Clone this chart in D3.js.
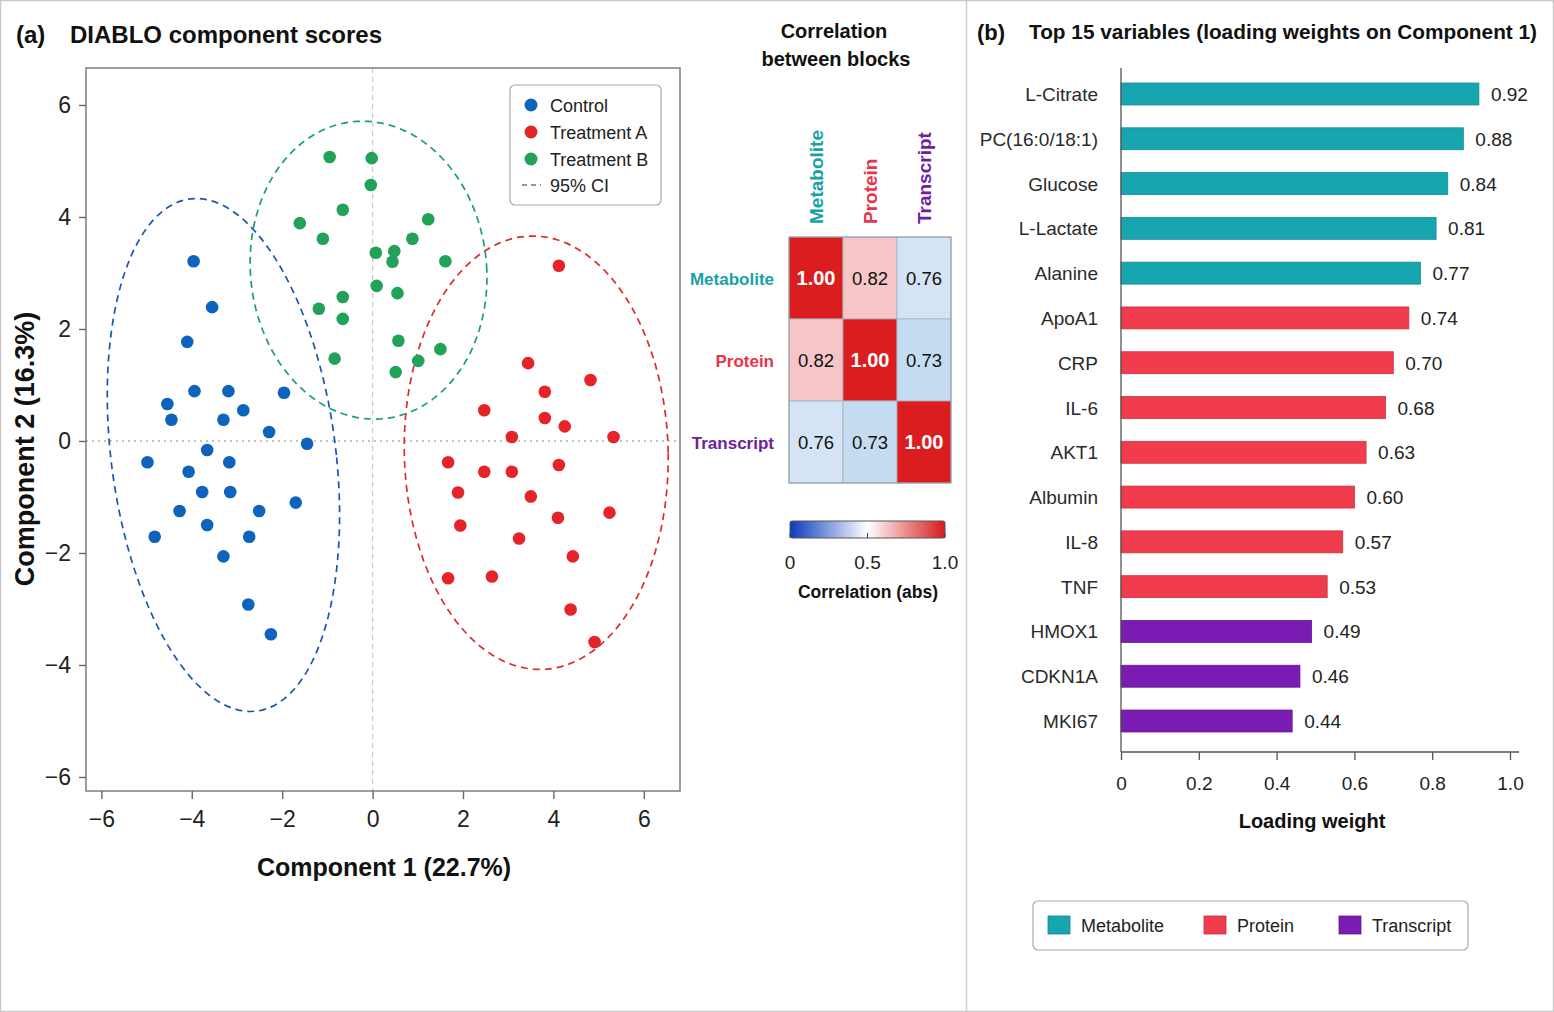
<!DOCTYPE html>
<html>
<head>
<meta charset="utf-8">
<script src="https://cdn.jsdelivr.net/npm/d3@7"></script>
<style>
  html, body { margin: 0; padding: 0; background: #fff; }
  svg { display: block; font-family: "Liberation Sans", Arial, Helvetica, sans-serif; }
</style>
</head>
<body>
<svg id="fig" width="1554" height="1012"></svg>
<script>
// ---------------- DATA ----------------
const groups = ["Control", "Treatment A", "Treatment B"];

const controlScores = [
  [-3.96, 3.21], [-3.55, 2.39], [-4.10, 1.77], [-3.94, 0.89], [-3.19, 0.89], [-1.96, 0.86],
  [-4.54, 0.66], [-4.45, 0.38], [-3.30, 0.38], [-2.86, 0.55], [-2.29, 0.16], [-1.45, -0.05],
  [-3.66, -0.16], [-4.98, -0.38], [-4.07, -0.55], [-3.17, -0.38], [-3.77, -0.91], [-3.15, -0.91],
  [-1.70, -1.10], [-4.27, -1.25], [-3.66, -1.50], [-2.51, -1.25], [-4.82, -1.71], [-2.73, -1.71],
  [-3.30, -2.06], [-2.75, -2.92], [-2.25, -3.45]
];
const treatmentAScores = [
  [4.12, 3.13], [3.44, 1.39], [4.82, 1.09], [3.81, 0.88], [2.47, 0.55], [3.81, 0.41],
  [4.25, 0.26], [3.08, 0.07], [5.33, 0.07], [1.67, -0.38], [2.47, -0.55], [3.08, -0.55],
  [4.12, -0.43], [1.89, -0.92], [3.50, -0.99], [1.94, -1.51], [4.10, -1.37], [5.24, -1.28],
  [3.24, -1.74], [4.43, -2.06], [1.67, -2.45], [2.64, -2.42], [4.38, -3.01], [4.91, -3.59]
];
const treatmentBScores = [
  [-0.95, 5.07], [-0.02, 5.05], [-0.04, 4.57], [-0.66, 4.13], [1.23, 3.96], [-1.61, 3.89],
  [-1.10, 3.61], [0.88, 3.61], [0.07, 3.36], [0.48, 3.39], [0.44, 3.20], [1.61, 3.21],
  [0.09, 2.77], [-0.66, 2.57], [0.55, 2.64], [-1.19, 2.36], [-0.66, 2.18], [0.57, 1.79],
  [1.50, 1.64], [-0.84, 1.47], [1.01, 1.43], [0.51, 1.23]
];
// 95% CI ellipses (data units): centre, half-width, half-height, x-offset of the top point
const ellipseCx     = [-3.30, 3.62, -0.09];
const ellipseCy     = [-0.25, -0.21, 3.05];
const ellipseHalfW  = [2.57, 2.92, 2.62];
const ellipseHalfH  = [4.58, 3.87, 2.66];
const ellipseShear  = [-0.60, -0.08, -0.13];

const xTicksA = [-6, -4, -2, 0, 2, 4, 6];
const yTicksA = [-6, -4, -2, 0, 2, 4, 6];

const blocks = ["Metabolite", "Protein", "Transcript"];
const blockCorr = [
  [1.00, 0.82, 0.76],
  [0.82, 1.00, 0.73],
  [0.76, 0.73, 1.00]
];
const colorbarTicks = [0, 0.5, 1.0];

const variables = ["L-Citrate", "PC(16:0/18:1)", "Glucose", "L-Lactate", "Alanine", "ApoA1", "CRP",
  "IL-6", "AKT1", "Albumin", "IL-8", "TNF", "HMOX1", "CDKN1A", "MKI67"];
const loadings = [0.92, 0.88, 0.84, 0.81, 0.77, 0.74, 0.70, 0.68, 0.63, 0.60, 0.57, 0.53, 0.49, 0.46, 0.44];
const varBlocks = ["Metabolite", "Metabolite", "Metabolite", "Metabolite", "Metabolite",
  "Protein", "Protein", "Protein", "Protein", "Protein", "Protein", "Protein",
  "Transcript", "Transcript", "Transcript"];
const xTicksB = [0, 0.2, 0.4, 0.6, 0.8, 1.0];

// ---------------- STYLE ----------------
const groupColor = { "Control": "#0e63bd", "Treatment A": "#e5242a", "Treatment B": "#22a159" };
const ellipseColor = ["#1a55b2", "#df2a2e", "#1b9c7c"];
const blockColor = { "Metabolite": "#17a5b0", "Protein": "#f03c4c", "Transcript": "#7a1cb3" };
const blockTextColor = { "Metabolite": "#17a2a6", "Protein": "#ea3348", "Transcript": "#6d1fa0" };

const svg = d3.select("#fig");

// figure frame and divider
svg.append("rect").attr("x", 0.5).attr("y", 0.5).attr("width", 1553).attr("height", 1011)
  .attr("fill", "none").attr("stroke", "#c9c9c9").attr("stroke-width", 1.5);
svg.append("line").attr("x1", 966.5).attr("x2", 966.5).attr("y1", 0).attr("y2", 1012)
  .attr("stroke", "#cfcfcf").attr("stroke-width", 1.5);

// ================= PANEL A: scatter =================
const pa = { left: 86, right: 680, top: 68, bottom: 791 };
const xS = d3.scaleLinear().domain([-6.34, 6.80]).range([pa.left, pa.right]);
const yS = d3.scaleLinear().domain([-6.25, 6.66]).range([pa.bottom, pa.top]);

svg.append("text").attr("x", 16).attr("y", 43).attr("font-size", 24).attr("font-weight", "bold")
  .attr("fill", "#111").text("(a)");
svg.append("text").attr("x", 70).attr("y", 43).attr("font-size", 24).attr("font-weight", "bold")
  .attr("fill", "#111").text("DIABLO component scores");

const gA = svg.append("g");
// reference lines
gA.append("line").attr("x1", xS(0)).attr("x2", xS(0)).attr("y1", pa.top).attr("y2", pa.bottom)
  .attr("stroke", "#cccccc").attr("stroke-width", 1.3).attr("stroke-dasharray", "5,4");
gA.append("line").attr("x1", pa.left).attr("x2", pa.right).attr("y1", yS(0)).attr("y2", yS(0))
  .attr("stroke", "#c4c4c4").attr("stroke-width", 1.8).attr("stroke-dasharray", "2,4");

// ellipses
const ellipseIdx = [0, 1, 2];
const tSteps = d3.range(0, 361, 3).map(d => d * Math.PI / 180);
const ellLine = d3.line().x(d => xS(d[0])).y(d => yS(d[1])).curve(d3.curveLinearClosed);
ellipseIdx.forEach(i => {
  const sh = ellipseShear[i];
  const rx = Math.sqrt(ellipseHalfW[i] ** 2 - sh ** 2);
  const pts = tSteps.map(t => [ellipseCx[i] + rx * Math.cos(t) + sh * Math.sin(t),
                               ellipseCy[i] + ellipseHalfH[i] * Math.sin(t)]);
  gA.append("path").attr("d", ellLine(pts)).attr("fill", "none")
    .attr("stroke", ellipseColor[i]).attr("stroke-width", 1.7).attr("stroke-dasharray", "7,5");
});

// points
const scoreSets = [controlScores, treatmentAScores, treatmentBScores];
scoreSets.forEach((set, gi) => {
  gA.append("g").selectAll("circle").data(set).join("circle")
    .attr("cx", d => xS(d[0])).attr("cy", d => yS(d[1])).attr("r", 6.3)
    .attr("fill", groupColor[groups[gi]]);
});

// frame
gA.append("rect").attr("x", pa.left).attr("y", pa.top).attr("width", pa.right - pa.left)
  .attr("height", pa.bottom - pa.top).attr("fill", "none").attr("stroke", "#7d7d7d").attr("stroke-width", 1.5);

// axes
const minusFmt = d => d < 0 ? "\u2212" + Math.abs(d) : String(d);
const xAxA = gA.append("g").attr("transform", `translate(0,${pa.bottom})`)
  .call(d3.axisBottom(xS).tickValues(xTicksA).tickSize(8).tickPadding(12).tickFormat(minusFmt));
const yAxA = gA.append("g").attr("transform", `translate(${pa.left},0)`)
  .call(d3.axisLeft(yS).tickValues(yTicksA).tickSize(7).tickPadding(8).tickFormat(minusFmt));
[xAxA, yAxA].forEach(ax => {
  ax.select(".domain").remove();
  ax.selectAll(".tick line").attr("stroke", "#666").attr("stroke-width", 1.4);
  ax.selectAll(".tick text").attr("font-size", 23).attr("fill", "#222")
    .attr("font-family", "'Liberation Sans', Arial, sans-serif");
});

gA.append("text").attr("x", 384).attr("y", 876).attr("text-anchor", "middle")
  .attr("font-size", 25).attr("font-weight", "bold").attr("fill", "#111").text("Component 1 (22.7%)");
gA.append("text").attr("transform", "translate(34,449) rotate(-90)").attr("text-anchor", "middle")
  .attr("font-size", 27).attr("font-weight", "bold").attr("fill", "#111").text("Component 2 (16.3%)");

// legend A
const legA = gA.append("g");
legA.append("rect").attr("x", 510).attr("y", 85).attr("width", 151).attr("height", 120).attr("rx", 5)
  .attr("fill", "#fff").attr("stroke", "#a8a8a8").attr("stroke-width", 1.2);
groups.forEach((g, i) => {
  const yy = 105 + i * 27;
  legA.append("circle").attr("cx", 531).attr("cy", yy).attr("r", 6.5).attr("fill", groupColor[g]);
  legA.append("text").attr("x", 550).attr("y", yy + 6.5).attr("font-size", 18).attr("fill", "#222").text(g);
});
legA.append("line").attr("x1", 522).attr("x2", 541).attr("y1", 185).attr("y2", 185)
  .attr("stroke", "#777").attr("stroke-width", 1.5).attr("stroke-dasharray", "5,4");
legA.append("text").attr("x", 550).attr("y", 191.5).attr("font-size", 18).attr("fill", "#222").text("95% CI");

// ================= Heatmap =================
const gH = svg.append("g");
gH.append("text").attr("x", 834).attr("y", 38).attr("text-anchor", "middle").attr("font-size", 20)
  .attr("font-weight", "bold").attr("fill", "#111").text("Correlation");
gH.append("text").attr("x", 836).attr("y", 66).attr("text-anchor", "middle").attr("font-size", 20)
  .attr("font-weight", "bold").attr("fill", "#111").text("between blocks");

const xH = d3.scaleBand().domain(blocks).range([789, 951]);
const yH = d3.scaleBand().domain(blocks).range([237, 483]);
const cellColor = d3.scaleLinear().domain([0.72, 0.77, 0.79, 0.85, 1.0])
  .range(["#c0d8ef", "#d9e7f5", "#f7d5d6", "#f2b5b8", "#dc1d20"]);

const cells = [];
blockCorr.forEach((row, i) => row.forEach((v, j) => cells.push({ r: blocks[i], c: blocks[j], v })));
gH.selectAll("rect.cell").data(cells).join("rect").attr("class", "cell")
  .attr("x", d => xH(d.c)).attr("y", d => yH(d.r)).attr("width", xH.bandwidth()).attr("height", yH.bandwidth())
  .attr("fill", d => cellColor(d.v)).attr("stroke", "#a9b4bf").attr("stroke-width", 0.8);
gH.selectAll("text.val").data(cells).join("text").attr("class", "val")
  .attr("x", d => xH(d.c) + xH.bandwidth() / 2).attr("y", d => yH(d.r) + yH.bandwidth() / 2 + 7)
  .attr("text-anchor", "middle").attr("font-size", d => d.v >= 0.999 ? 20 : 18.5)
  .attr("font-weight", d => d.v >= 0.999 ? "bold" : "normal")
  .attr("fill", d => d.v >= 0.999 ? "#fff" : "#111").text(d => d3.format(".2f")(d.v));
gH.append("rect").attr("x", 789).attr("y", 237).attr("width", 162).attr("height", 246)
  .attr("fill", "none").attr("stroke", "#8f9aa5").attr("stroke-width", 1);

gH.selectAll("text.rowlab").data(blocks).join("text").attr("class", "rowlab")
  .attr("x", 774).attr("y", d => yH(d) + yH.bandwidth() / 2 + 6.5).attr("text-anchor", "end")
  .attr("font-size", 17).attr("font-weight", "bold").attr("fill", d => blockTextColor[d]).text(d => d);
gH.selectAll("text.collab").data(blocks).join("text").attr("class", "collab")
  .attr("transform", d => `translate(${xH(d) + xH.bandwidth() / 2 + 7},224) rotate(-90)`)
  .attr("font-size", 19).attr("font-weight", "bold").attr("fill", d => blockTextColor[d]).text(d => d);

// colorbar
const defs = svg.append("defs");
const grad = defs.append("linearGradient").attr("id", "cbar").attr("x1", "0%").attr("x2", "100%");
const cbScale = d3.scaleLinear().domain([0, 0.5, 1]).range(["#0a3bbd", "#ffffff", "#d51a1d"]);
d3.range(0, 1.001, 0.1).forEach(t => grad.append("stop").attr("offset", (t * 100) + "%").attr("stop-color", cbScale(t)));
const cbX = d3.scaleLinear().domain([0, 1]).range([790, 945]);
gH.append("rect").attr("x", cbX(0)).attr("y", 521).attr("width", cbX(1) - cbX(0)).attr("height", 17)
  .attr("fill", "url(#cbar)").attr("stroke", "#555").attr("stroke-width", 1).attr("rx", 2);
gH.selectAll("line.cbt").data(colorbarTicks).join("line").attr("class", "cbt")
  .attr("x1", d => cbX(d)).attr("x2", d => cbX(d)).attr("y1", 533).attr("y2", 538)
  .attr("stroke", "#444").attr("stroke-width", 1);
gH.selectAll("text.cbl").data(colorbarTicks).join("text").attr("class", "cbl")
  .attr("x", d => cbX(d)).attr("y", 569).attr("text-anchor", "middle").attr("font-size", 19).attr("fill", "#222")
  .text(d => d === 0 ? "0" : d3.format(".1f")(d));
gH.append("text").attr("x", 868).attr("y", 598).attr("text-anchor", "middle").attr("font-size", 17.5)
  .attr("font-weight", "bold").attr("fill", "#111").text("Correlation (abs)");

// ================= PANEL B: bars =================
const gB = svg.append("g");
gB.append("text").attr("x", 977).attr("y", 40).attr("font-size", 22).attr("font-weight", "bold")
  .attr("fill", "#111").text("(b)");
gB.append("text").attr("x", 1029).attr("y", 39).attr("font-size", 20.8).attr("font-weight", "bold")
  .attr("fill", "#111").text("Top 15 variables (loading weights on Component 1)");

const xB = d3.scaleLinear().domain([0, 1.0]).range([1121, 1510]);
const yB = d3.scaleBand().domain(variables).range([71.6, 743.4]).paddingInner(0.51).paddingOuter(0.255);

const barData = variables.map((v, i) => ({ name: v, value: loadings[i], block: varBlocks[i] }));
gB.selectAll("rect.bar").data(barData).join("rect").attr("class", "bar")
  .attr("x", xB(0)).attr("y", d => yB(d.name)).attr("width", d => xB(d.value) - xB(0)).attr("height", yB.bandwidth())
  .attr("fill", d => blockColor[d.block]).attr("stroke", d => d3.color(blockColor[d.block]).darker(0.5))
  .attr("stroke-width", 0.8);
gB.selectAll("text.vlab").data(barData).join("text").attr("class", "vlab")
  .attr("x", d => xB(d.value) + 12).attr("y", d => yB(d.name) + yB.bandwidth() / 2 + 7)
  .attr("font-size", 19).attr("fill", "#222").text(d => d3.format(".2f")(d.value));
gB.selectAll("text.nlab").data(barData).join("text").attr("class", "nlab")
  .attr("x", 1098).attr("y", d => yB(d.name) + yB.bandwidth() / 2 + 7).attr("text-anchor", "end")
  .attr("font-size", 19).attr("fill", "#2a2a2a").text(d => d.name);

// y axis line
gB.append("line").attr("x1", 1121).attr("x2", 1121).attr("y1", 68).attr("y2", 752)
  .attr("stroke", "#555").attr("stroke-width", 1.3);
const xAxB = gB.append("g").attr("transform", "translate(0,752)")
  .call(d3.axisBottom(xB).tickValues(xTicksB).tickSize(8).tickPadding(17)
    .tickFormat(d => d === 0 ? "0" : d3.format(".1f")(d)));
xAxB.select(".domain").attr("d", "M1121,0H1519").attr("stroke", "#555").attr("stroke-width", 1.3);
xAxB.selectAll(".tick line").attr("stroke", "#555").attr("stroke-width", 1.3);
xAxB.selectAll(".tick text").attr("font-size", 19).attr("fill", "#222")
  .attr("font-family", "'Liberation Sans', Arial, sans-serif");
gB.append("text").attr("x", 1312).attr("y", 828).attr("text-anchor", "middle").attr("font-size", 20)
  .attr("font-weight", "bold").attr("fill", "#111").text("Loading weight");

// legend B
const legB = gB.append("g");
legB.append("rect").attr("x", 1033).attr("y", 901).attr("width", 435).attr("height", 49).attr("rx", 5)
  .attr("fill", "#fff").attr("stroke", "#a8a8a8").attr("stroke-width", 1.2);
const legBx = [1048, 1204, 1339];
blocks.forEach((b, i) => {
  legB.append("rect").attr("x", legBx[i]).attr("y", 916).attr("width", 22).attr("height", 18)
    .attr("fill", blockColor[b]).attr("stroke", d3.color(blockColor[b]).darker(0.6)).attr("stroke-width", 0.8);
  legB.append("text").attr("x", legBx[i] + 33).attr("y", 932).attr("font-size", 18).attr("fill", "#222").text(b);
});
</script>
</body>
</html>
